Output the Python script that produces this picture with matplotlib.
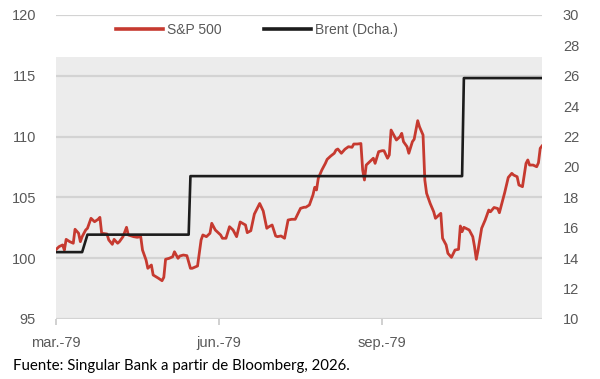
import matplotlib
matplotlib.use("Agg")
import matplotlib.pyplot as plt
import matplotlib.dates as mdates
import numpy as np
import pandas as pd

# ---------------- data ----------------
start_date = "1979-03-01"
end_date = "1979-11-30"

sp_days = [0, 2, 4, 5, 6, 8, 10, 11, 13, 14, 15, 17, 18, 20, 22, 24, 25, 26, 29, 30,
           32, 33, 35, 36, 38, 40, 41, 44, 46, 48, 49, 51, 52, 54, 55, 58, 60, 61, 62, 64,
           66, 67, 69, 70, 72, 74, 76, 77, 80, 82, 83, 85, 87, 88, 90, 93, 94, 96, 98, 100,
           102, 104, 107, 108, 110, 112, 114, 115, 117, 119, 120, 122, 124, 125, 127, 129, 131, 133, 135, 138,
           140, 141, 143, 145, 146, 147, 148, 150, 152, 153, 155, 157, 158, 159, 161, 163, 165, 167, 168, 170,
           172, 173, 174, 175, 177, 179, 180, 182, 184, 185, 187, 188, 189, 190, 192, 194, 195, 196, 198, 199,
           201, 202, 204, 205, 207, 208, 209, 211, 213, 214, 217, 218, 220, 221, 223, 225, 227, 228, 229, 230,
           233, 235, 236, 237, 238, 240, 242, 243, 244, 245, 247, 249, 250, 251, 253, 255, 257, 258, 260, 261,
           263, 265, 266, 267, 269, 271, 272, 273, 274]
sp_values = [100.67, 100.95, 101.09, 100.67, 101.55, 101.36, 101.23, 102.38, 102.05, 101.36,
             101.77, 102.32, 102.46, 103.28, 103.00, 103.20, 103.36, 102.05, 101.99, 101.50,
             101.14, 101.55, 101.23, 101.36, 101.77, 102.54, 101.91, 101.77, 101.72, 101.77,
             100.67, 99.85, 99.17, 99.44, 98.62, 98.35, 98.15, 98.43, 99.91, 99.99,
             100.12, 100.53, 99.99, 100.18, 100.26, 100.21, 99.17, 99.17, 99.36, 101.50,
             101.91, 101.77, 102.05, 102.87, 102.32, 101.91, 101.64, 101.64, 102.59, 102.32,
             101.77, 102.98, 102.73, 102.10, 102.26, 103.63, 104.21, 104.50, 103.88, 102.46,
             102.57, 102.73, 101.83, 101.77, 101.83, 101.64, 103.14, 103.20, 103.20, 104.10,
             104.19, 104.19, 104.38, 105.20, 105.83, 105.61, 106.57, 107.25, 107.80, 108.13,
             108.40, 108.63, 108.90, 108.98, 108.63, 108.96, 109.17, 109.12, 109.39, 109.39,
             109.43, 107.25, 106.43, 107.66, 107.94, 108.22, 107.80, 108.76, 108.84, 108.84,
             108.22, 108.49, 110.54, 110.27, 109.72, 109.99, 110.27, 109.58, 109.17, 108.63,
             109.58, 109.78, 111.31, 110.81, 110.13, 106.43, 105.34, 104.51, 103.82, 103.28,
             103.69, 101.64, 101.09, 100.40, 100.07, 100.67, 100.73, 102.65, 102.18, 102.54,
             102.32, 101.77, 100.95, 99.91, 100.67, 102.46, 103.14, 103.55, 103.96, 103.82,
             104.17, 104.09, 103.74, 104.29, 105.40, 106.64, 106.98, 106.84, 106.70, 106.02,
             105.88, 107.80, 108.08, 107.66, 107.66, 107.52, 107.85, 109.04, 109.23]

brent_dates = ["1979-03-01", "1979-03-16", "1979-03-19", "1979-05-15", "1979-05-16",
               "1979-10-16", "1979-10-17", "1979-11-30"]
brent_values = [14.4, 14.4, 15.55, 15.55, 19.4, 19.4, 25.85, 25.85]

left_ticks = [95, 100, 105, 110, 115, 120]
right_ticks = [10, 12, 14, 16, 18, 20, 22, 24, 26, 28, 30]
x_tick_dates = ["1979-03-01", "1979-06-01", "1979-09-01"]
x_tick_labels = ["mar.-79", "jun.-79", "sep.-79"]

label_sp = "S&P 500"
label_brent = "Brent (Dcha.)"
source = "Fuente: Singular Bank a partir de Bloomberg, 2026."

# ---------------- styling ----------------
plt.rcParams["font.family"] = ["Liberation Sans", "DejaVu Sans"]
RED = "#c63a30"
BLACK = "#1c1c1c"
TXT = "#595959"
GRID = "#d3d3d3"
BG = "#ececec"

sp_dates = pd.Timestamp(start_date) + pd.to_timedelta(sp_days, unit="D")
b_dates = pd.to_datetime(brent_dates)

W, H = 600, 379
fig = plt.figure(figsize=(W / 100, H / 100), dpi=100)
ax = fig.add_axes([55.5 / W, 60 / H, (542 - 55.5) / W, 304 / H])
ax.set_facecolor("white")

ax.set_xlim(pd.Timestamp(start_date), pd.Timestamp(end_date))
ax.set_ylim(95, 120)
ax.axhspan(95, 116.55, color=BG, zorder=0, lw=0)

ax.set_yticks(left_ticks)
ax.yaxis.grid(True, color=GRID, lw=1.6, zorder=0.5)
ax.set_axisbelow(True)
for s in ax.spines.values():
    s.set_visible(False)

ax.set_xticks(pd.to_datetime(x_tick_dates))
ax.set_xticklabels(x_tick_labels)
ax.tick_params(axis="x", length=4, width=1.2, color="#c8c8c8", pad=8,
               labelcolor=TXT, labelsize=10.5)
ax.tick_params(axis="y", length=0, pad=14, labelcolor=TXT, labelsize=10.5)

l1, = ax.plot(sp_dates, sp_values, color=RED, lw=2.0, zorder=3,
              solid_joinstyle="round")

ax2 = ax.twinx()
ax2.set_ylim(10, 30)
ax2.set_yticks(right_ticks)
for s in ax2.spines.values():
    s.set_visible(False)
ax2.tick_params(axis="y", length=0, pad=15, labelcolor=TXT, labelsize=10.5)
l2, = ax2.plot(b_dates, brent_values, color=BLACK, lw=1.9, zorder=4)

leg = fig.legend([l1, l2], [label_sp, label_brent], loc="center",
                 bbox_to_anchor=(257 / W, 1 - 30 / H), ncol=2, frameon=False,
                 fontsize=10, handlelength=3.4, handletextpad=0.3,
                 columnspacing=3.0, labelcolor=TXT)
for h in leg.legend_handles:
    h.set_linewidth(2.6)

fig.text(13 / W, 1 - 370 / H, source, fontsize=10.8, color="black",
         family=["Lato", "DejaVu Sans"], va="baseline", ha="left")

fig.savefig("out.png", dpi=100)
